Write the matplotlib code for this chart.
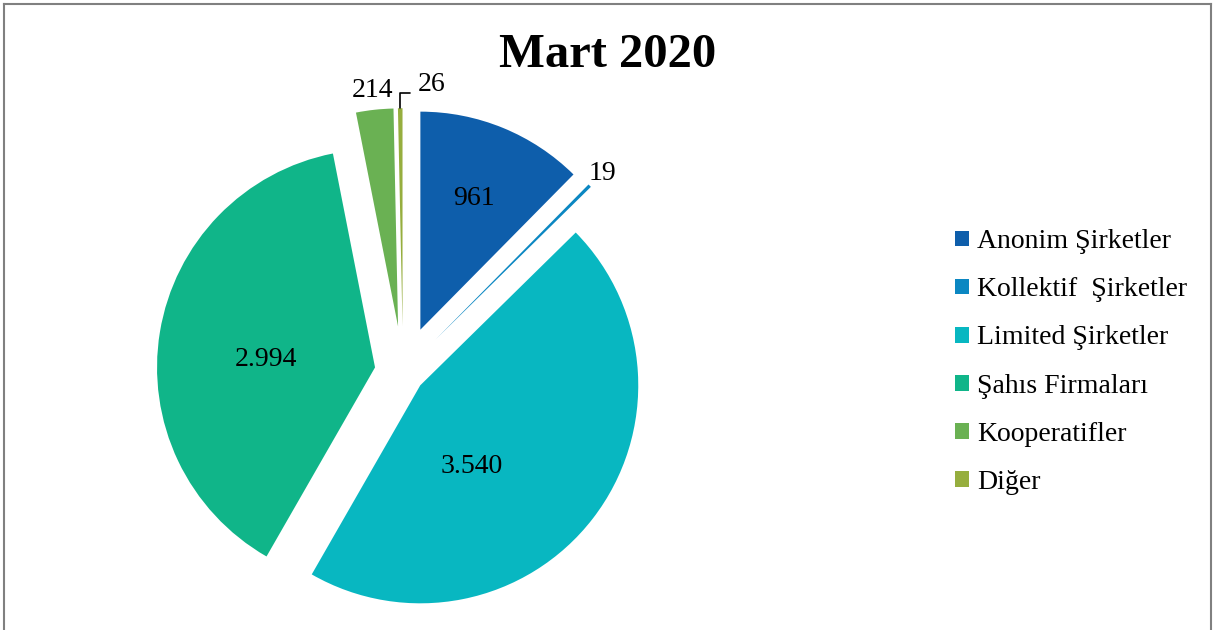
import matplotlib.pyplot as plt
from matplotlib.patches import Patch
from matplotlib.lines import Line2D
import numpy as np

plt.rcParams['font.family'] = ['Liberation Serif', 'DejaVu Serif']

title = "Mart 2020"
categories = ["Anonim Şirketler", "Kollektif  Şirketler", "Limited Şirketler",
              "Şahıs Firmaları", "Kooperatifler", "Diğer"]
values = [961, 19, 3540, 2994, 214, 26]
value_labels = ["961", "19", "3.540", "2.994", "214", "26"]
colors = ["#0E5EAB", "#0B87C2", "#08B7C1", "#10B589", "#6AB153", "#96AE3E"]
explode = [0.21, 0.21, 0.10, 0.13, 0.21, 0.21]

W, H = 1215, 630
fig = plt.figure(figsize=(W / 100, H / 100), dpi=100)
ax = fig.add_axes([0, 0, 1, 1])

wedges, _ = ax.pie(values, colors=colors, explode=explode, startangle=90,
                   counterclock=False, radius=1,
                   wedgeprops=dict(linewidth=0))

# pie centre and radius in pixels (pie() resets limits, so set them after)
cx, cy, r = 403, 372, 218
ax.set_xlim(-cx / r, (W - cx) / r)
ax.set_ylim((cy - H) / r, cy / r)
ax.axis('off')

# label placement: (distance from wedge apex, angle shift from bisector)
label_pos = [(0.65, 0), (1.08, 0), (0.44, -20), (0.50, 5), (1.09, 0), (1.14, 0)]
for i, w in enumerate(wedges):
    ang = (w.theta1 + w.theta2) / 2
    d, shift = label_pos[i]
    a = np.deg2rad(ang + shift)
    x0, y0 = w.center
    tx, ty = x0 + d * np.cos(a), y0 + d * np.sin(a)
    if i == 5:
        # small slice gets a leader line
        tip = (x0 + np.cos(np.deg2rad(ang)), y0 + np.sin(np.deg2rad(ang)))
        ax.annotate(value_labels[i], xy=tip, xytext=(tx + 0.08, ty - 0.03),
                    ha='left', va='center', fontsize=20,
                    arrowprops=dict(arrowstyle='-', color='black', lw=1.2,
                                    shrinkA=3, shrinkB=0, relpos=(0, 0.15),
                                    connectionstyle='angle,angleA=0,angleB=90,rad=0'))
    else:
        ax.text(tx, ty, value_labels[i], ha='center', va='center', fontsize=20)

fig.text(608 / W, 1 - 55 / H, title, ha='center', va='center',
         fontsize=35, fontweight='bold')

handles = [Patch(facecolor=c, edgecolor='none') for c in colors]
fig.legend(handles, categories, loc='center left',
           bbox_to_anchor=(955 / W, 1 - 362 / H), bbox_transform=fig.transFigure,
           frameon=False, fontsize=20, borderpad=0, borderaxespad=0,
           handlelength=0.5, handleheight=0.5, handletextpad=0.3,
           labelspacing=0.83)

# chart border (bottom edge is cut off in the original)
bc = '#808080'
fig.add_artist(Line2D([4 / W, 4 / W], [0, 1 - 4 / H], color=bc, lw=1.5))
fig.add_artist(Line2D([4 / W, 1211 / W], [1 - 4 / H, 1 - 4 / H], color=bc, lw=1.5))
fig.add_artist(Line2D([1211 / W, 1211 / W], [0, 1 - 4 / H], color=bc, lw=1.5))

fig.savefig("out.png", dpi=100)
